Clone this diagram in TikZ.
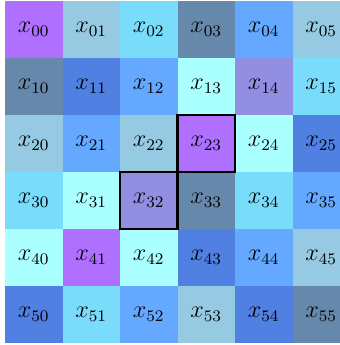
\documentclass[tikz,border=0pt]{standalone}
\usetikzlibrary{positioning}
\definecolor{cellviolet}{RGB}{176,112,255}
\definecolor{cellsteel}{RGB}{150,202,226}
\definecolor{cellsky}{RGB}{120,220,250}
\definecolor{cellslate}{RGB}{102,136,170}
\definecolor{cellazure}{RGB}{100,168,255}
\definecolor{cellroyal}{RGB}{80,128,226}
\definecolor{cellpale}{RGB}{170,255,255}
\definecolor{celllavender}{RGB}{146,142,226}

\begin{document}
\begin{tikzpicture}[
    x=1cm, y=0.991cm,
    cell/.style={minimum width=1cm, minimum height=0.991cm, inner sep=0pt, outer sep=0pt, font=\large},
    picked/.style={draw=black, line width=1pt}
]
\useasboundingbox (-0.087cm,0.017cm) rectangle (5.826cm,-5.983cm);
\begin{scope}
\clip (-0.087cm,0.017cm) rectangle (5.826cm,-5.983cm);
\foreach \cols [count=\r from 0] in {
    {cellviolet,cellsteel,cellsky,cellslate,cellazure,cellsteel},
    {cellslate,cellroyal,cellazure,cellpale,celllavender,cellsky},
    {cellsteel,cellazure,cellsteel,cellviolet,cellpale,cellroyal},
    {cellsky,cellpale,celllavender,cellslate,cellsky,cellazure},
    {cellpale,cellviolet,cellpale,cellroyal,cellazure,cellsteel},
    {cellroyal,cellsky,cellazure,cellsteel,cellroyal,cellslate}}
{
    \foreach \col [count=\c from 0] in \cols
        \node[cell, fill=\col] (cell\r\c) at (\c+0.5,-\r-0.5) {$x_{\r\c}$};
}
\end{scope}

% highlighted cells
\draw[picked] (cell23.north west) rectangle (cell23.south east);
\draw[picked] (cell32.north west) rectangle (cell32.south east);
\end{tikzpicture}
\end{document}
